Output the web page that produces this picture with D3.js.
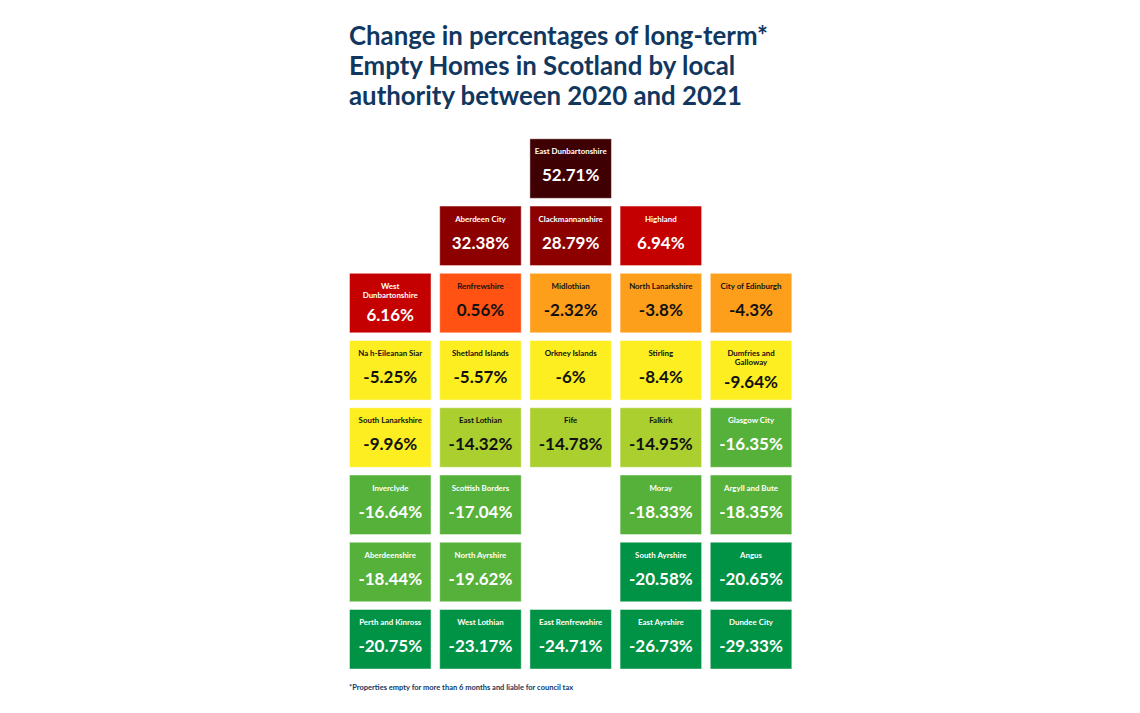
<!DOCTYPE html>
<html><head><meta charset="utf-8">
<script src="https://cdn.jsdelivr.net/npm/d3@7"></script>
<style>
html,body{margin:0;padding:0;background:#fff;}
svg{display:block;}
text{font-family:Lato,"Open Sans",sans-serif;font-weight:700;}
</style></head>
<body><svg id="c" width="1140" height="713"></svg>
<script>
// ---- data ----
const titleLines = ["Change in percentages of long-term*", "Empty Homes in Scotland by local", "authority between 2020 and 2021"];
const footnote = "*Properties empty for more than 6 months and liable for council tax";
const authorities = [
  "East Dunbartonshire",
  "Aberdeen City", "Clackmannanshire", "Highland",
  "West\nDunbartonshire", "Renfrewshire", "Midlothian", "North Lanarkshire", "City of Edinburgh",
  "Na h-Eileanan Siar", "Shetland Islands", "Orkney Islands", "Stirling", "Dumfries and\nGalloway",
  "South Lanarkshire", "East Lothian", "Fife", "Falkirk", "Glasgow City",
  "Inverclyde", "Scottish Borders", "Moray", "Argyll and Bute",
  "Aberdeenshire", "North Ayrshire", "South Ayrshire", "Angus",
  "Perth and Kinross", "West Lothian", "East Renfrewshire", "East Ayrshire", "Dundee City"
];
const changes = [
  52.71,
  32.38, 28.79, 6.94,
  6.16, 0.56, -2.32, -3.8, -4.3,
  -5.25, -5.57, -6, -8.4, -9.64,
  -9.96, -14.32, -14.78, -14.95, -16.35,
  -16.64, -17.04, -18.33, -18.35,
  -18.44, -19.62, -20.58, -20.65,
  -20.75, -23.17, -24.71, -26.73, -29.33
];
// tile-grid template: which column slots each row fills (in sorted order)
const rowTemplate = ["..X..", ".XXX.", "XXXXX", "XXXXX", "XXXXX", "XX.XX", "XX.XX", "XXXXX"];
const binThresholds = [-20, -15, -10, -5, 0, 5, 20, 40];
const binColors = ["#009245", "#56b13a", "#aacf2f", "#fcee21", "#fe9f1c", "#ff5213", "#c40000", "#8d0000", "#3f0004"];
const binTextColors = ["#fff", "#fff", "#111", "#111", "#111", "#111", "#fff", "#fff", "#fff"];

// ---- layout ----
const svg = d3.select("#c");
const navy = "#12375f";

svg.append("g").selectAll("text").data(titleLines).join("text")
  .attr("x", 349).attr("y", (d, i) => 45 + i * 30)
  .attr("font-size", 25.8).attr("fill", navy).text(d => d);

const slots = [];
rowTemplate.forEach((r, ri) => r.split("").forEach((c, ci) => { if (c === "X") slots.push({ row: ri, col: ci }); }));
const cells = authorities.map((n, i) => ({ name: n, value: changes[i], ...slots[i] }));

const x = d3.scaleBand().domain(d3.range(5)).range([349, 792.3]).paddingInner(0.085).paddingOuter(0);
const y = d3.scaleBand().domain(d3.range(8)).range([138.3, 669.5]).paddingInner(0.1).paddingOuter(0);
const color = d3.scaleThreshold().domain(binThresholds).range(binColors);
const textColor = d3.scaleThreshold().domain(binThresholds).range(binTextColors);

const fmt = v => String(v) + "%";

const g = svg.append("g").selectAll("g").data(cells).join("g")
  .attr("transform", d => `translate(${x(d.col)},${y(d.row)})`);

g.append("rect")
  .attr("x", 0.5).attr("y", 0.5)
  .attr("width", x.bandwidth() - 1).attr("height", y.bandwidth() - 1)
  .attr("fill", d => color(d.value))
  .attr("stroke", "#fff").attr("stroke-opacity", 0.45).attr("stroke-width", 1);

g.each(function (d) {
  const lines = d.name.split("\n");
  const sel = d3.select(this);
  const tc = textColor(d.value);
  const cx = x.bandwidth() / 2;
  lines.forEach((l, i) => {
    sel.append("text").attr("x", cx).attr("y", 16 + i * 9)
      .attr("text-anchor", "middle").attr("font-size", 7.9).attr("fill", tc).text(l);
  });
  sel.append("text").attr("x", cx).attr("y", 43 + (lines.length - 1) * 5)
    .attr("text-anchor", "middle").attr("font-size", 17).attr("fill", tc).text(fmt(d.value));
});

svg.append("text").attr("x", 349).attr("y", 689.5)
  .attr("font-size", 7.5).attr("fill", navy).text(footnote);
</script></body></html>
